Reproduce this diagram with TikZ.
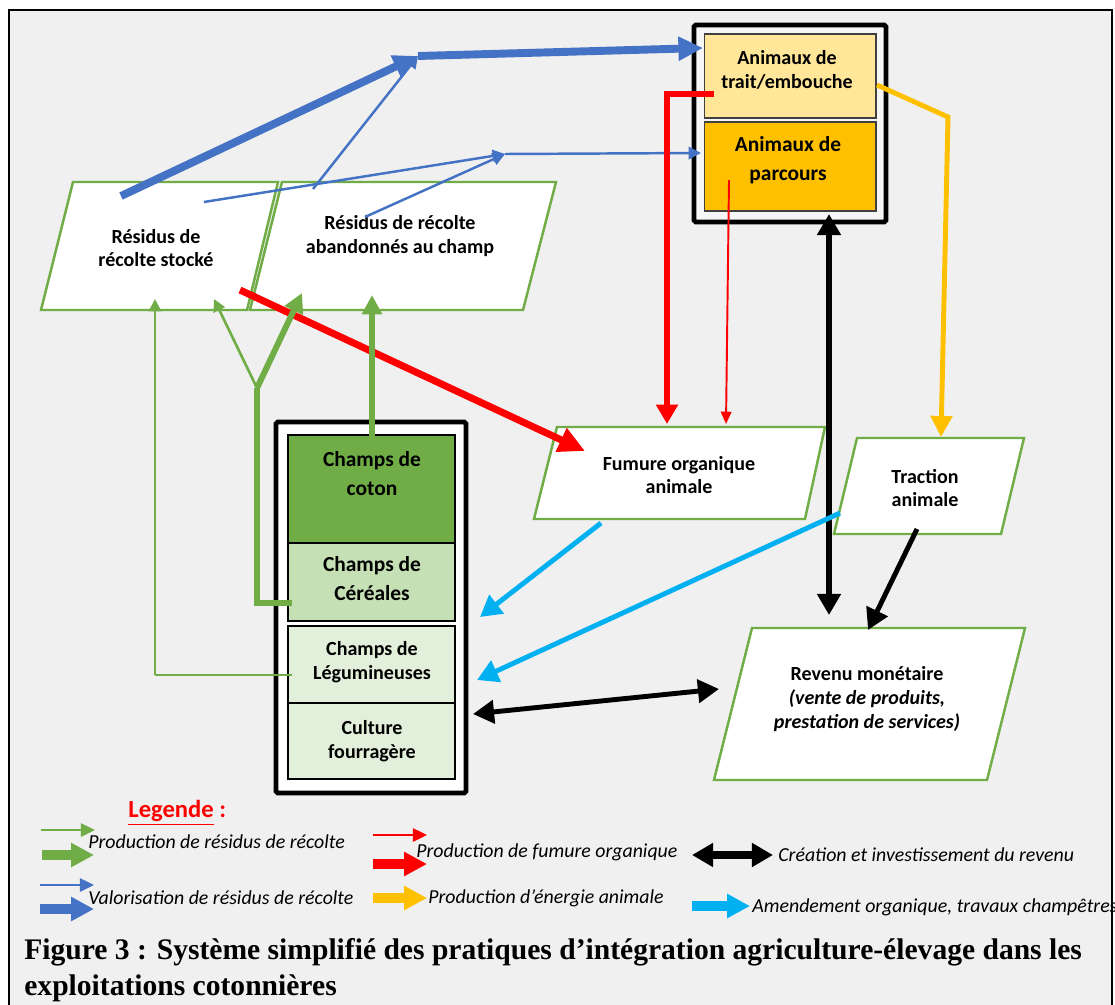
\documentclass[tikz,border=0pt]{standalone}
\usepackage{fontspec}
\setmainfont{Carlito}
\newfontfamily\capfont[FakeStretch=0.99]{Liberation Serif}
\usetikzlibrary{arrows.meta}

\definecolor{cgreen}{HTML}{70AD47}
\definecolor{cblue}{HTML}{4472C4}
\definecolor{corange}{HTML}{FFC000}
\definecolor{ccyan}{HTML}{00B0F0}
\definecolor{cyellow}{HTML}{FFE699}
\definecolor{cgreenL}{HTML}{C5E0B4}
\definecolor{cgreenLL}{HTML}{E2EFDA}
\definecolor{bgray}{HTML}{F0F0F0}

\tikzset{
  txt/.style={font=\bfseries\fontsize{11.4}{13.6}\selectfont, align=center, inner sep=0pt},
  txtbig/.style={font=\bfseries\fontsize{12.2}{16.5}\selectfont, align=center, inner sep=0pt},
  legtxt/.style={font=\itshape\fontsize{11.3}{12}\selectfont, anchor=west, inner sep=0pt},
  parabox/.style={draw=cgreen, fill=white, line width=1.4pt, line join=miter},
  cell/.style={draw=black, line width=1.4pt, minimum width=3.34cm, inner sep=0pt},
  acell/.style={draw=black!75, line width=0.6pt, minimum width=3.44cm, inner sep=0pt},
  blueK/.style={draw=cblue, line width=4.5pt, -{Triangle[length=14pt,width=13pt]}},
  blueT/.style={draw=cblue, line width=1.4pt, -{Triangle[length=7pt,width=7pt]}},
  redK/.style={draw=red, line width=4pt, -{Triangle[length=15pt,width=14pt]}},
  redM/.style={draw=red, line width=3.4pt, line join=miter, -{Triangle[length=11pt,width=12pt]}},
  redT/.style={draw=red, line width=1.1pt, -{Triangle[length=7pt,width=6pt]}},
  orangeA/.style={draw=corange, line width=2.8pt, line join=miter, -{Triangle[length=12pt,width=12pt]}},
  blackA/.style={draw=black, line width=3.4pt, {Triangle[length=12pt,width=13pt]}-{Triangle[length=12pt,width=13pt]}},
  blackS/.style={draw=black, line width=2.8pt, -{Triangle[length=12pt,width=13pt]}},
  cyanA/.style={draw=ccyan, line width=2.8pt, -{Triangle[length=12pt,width=13pt]}},
  greenK/.style={draw=cgreen, line width=3.4pt, line join=miter, -{Triangle[length=11pt,width=11pt]}},
  greenT/.style={draw=cgreen, line width=1.2pt, -{Triangle[length=7pt,width=7pt]}},
}

\begin{document}
\begin{tikzpicture}[x=0.02cm, y=-0.02cm]
  \useasboundingbox (0,0) rectangle (1115,1004);
  \fill[white] (0,0) rectangle (1115,1004);
  \draw[fill=bgray, line width=1.1pt] (9,10) rectangle (1112,1040);

  % parallelograms
  \draw[parabox] (73,182) -- (278,182) -- (247,310) -- (41,310) -- cycle;
  \draw[parabox] (282,182) -- (556,182) -- (523,310) -- (250,310) -- cycle;
  \draw[parabox] (557,427) -- (825,427) -- (805,519) -- (534,519) -- cycle;
  \draw[parabox] (857,438) -- (1024,438) -- (1001,534) -- (834,534) -- cycle;
  \draw[parabox] (752,628) -- (1025,628) -- (987,780) -- (714,780) -- cycle;

  \node[txt] (stock) at (156,248) {Résidus de\\récolte stocké};
  \node[txt] (aband) at (400,236) {Résidus de récolte\\abandonnés au champ};
  \node[txt] (fumure) at (679,475) {Fumure organique\\animale};
  \node[txt] (traction) at (925,488) {Traction\\animale};
  \node[txt] (revenu) at (867,699) {Revenu monétaire\\\textit{(vente de produits,}\\\textit{prestation de services)}};

  % animals
  \draw[fill=bgray!60, line width=2.8pt, rounded corners=1pt] (694,25) rectangle (886,222);
  \node[acell, fill=cyellow, minimum height=1.68cm] (trait) at (790,76) {};
  \node[acell, fill=corange, minimum height=1.78cm] (parcours) at (790,166.5) {};
  \node[txt] (trait-t) at (787,70) {Animaux de\\trait/embouche};
  \node[txtbig] (parcours-t) at (788,160) {Animaux de\\parcours};

  % fields
  \draw[fill=white, line width=2.8pt, rounded corners=1pt] (276,422) rectangle (466,793);
  \node[cell, fill=cgreen, minimum height=2.16cm] (coton) at (371.5,489) {};
  \node[cell, fill=cgreenL, minimum height=1.56cm] (cereales) at (371.5,582) {};
  \node[cell, fill=cgreenLL, minimum height=1.54cm] (legum) at (371.5,664.5) {};
  \node[cell, fill=cgreenLL, minimum height=1.52cm] (fourrage) at (371.5,741) {};
  \node[txtbig] (coton-t) at (372,474) {Champs de\\coton};
  \node[txtbig] (cereales-t) at (372,579) {Champs de\\Céréales};
  \node[txt] (legum-t) at (372,662) {Champs de\\Légumineuses};
  \node[txt] (fourrage-t) at (372,741) {Culture\\fourragère};

  % arrow ends
  \coordinate (jA) at (418,56);
  \coordinate (jB) at (505,154);
  \coordinate (jO) at (948,117);
  \coordinate (jY) at (257,388);
  \coordinate (jR) at (667,94);
  \coordinate (jL) at (155,675);
  \coordinate (jC) at (257,603);

  % blue
  \draw[blueK] (121,196) coordinate (stock-b1) -- (jA);
  \draw[blueK] (jA) -- (703,48) coordinate (trait-b);
  \draw[blueT] (313,189) coordinate (aband-b1) -- (jA);
  \draw[blueT] (204,202) coordinate (stock-b2) -- (jB);
  \draw[blueT] (365,217) coordinate (aband-b2) -- (jB);
  \draw[blueT] (jB) -- (701,153) coordinate (parcours-b);

  % red
  \draw[redK] (240,290) coordinate (stock-r) -- (585,451) coordinate (fumure-r1);
  \draw[redM] (714,94) coordinate (trait-r) -- (jR) -- (667,424) coordinate (fumure-r2);
  \draw[redT] (729,180) coordinate (parcours-r) -- (726,424) coordinate (fumure-r3);

  % orange
  \draw[orangeA] (877,85) coordinate (trait-o) -- (jO) -- (941,437) coordinate (traction-o);

  % black
  \draw[blackA] (829,214) coordinate (parcours-k) -- (829,615) coordinate (revenu-k1);
  \draw[blackS] (917,529) coordinate (traction-k) -- (868,630) coordinate (revenu-k2);
  \draw[blackA, line width=2.8pt] (473,714) coordinate (fourrage-k) -- (719,689) coordinate (revenu-k3);

  % cyan
  \draw[cyanA] (601,523) coordinate (fumure-c) -- (480,617) coordinate (cereales-c);
  \draw[cyanA] (840,513) coordinate (traction-c) -- (477,680) coordinate (legum-c);

  % green
  \draw[cgreen, line width=0.6pt] (292,675) coordinate (legum-g) -- (jL);
  \draw[greenT] (jL) -- (155,299) coordinate (stock-g1);
  \draw[cgreen, line width=3.6pt, line join=miter] (292,603) coordinate (cereales-g) -- (jC) -- (jY);
  \draw[greenT, line width=1.5pt] (jY) -- (214,299) coordinate (stock-g2);
  \draw[greenK] (jY) -- (302,293) coordinate (aband-g1);
  \draw[greenK] (372,436) coordinate (coton-g) -- (372,295) coordinate (aband-g2);

  % legend
  \node[anchor=west, inner sep=0pt, font=\bfseries\fontsize{14}{15}\selectfont, text=red] (legende) at (128,813) {\underline{Legende} :};
  \draw[cgreen, line width=1.2pt, -{Triangle[length=8pt,width=7.5pt]}] (41,830) -- (95,830);
  \draw[cgreen, line width=5.2pt, -{Triangle[length=13pt,width=13pt]}] (42,855) -- (94,855);
  \draw[red, line width=1.2pt, -{Triangle[length=8pt,width=7.5pt]}] (373,835) -- (427,835);
  \draw[red, line width=5.2pt, -{Triangle[length=13pt,width=13pt]}] (373,864) -- (427,864);
  \draw[black, line width=4.5pt, {Triangle[length=12pt,width=13pt]}-{Triangle[length=12pt,width=13pt]}] (692,855) -- (773,855);
  \draw[cblue, line width=1.2pt, -{Triangle[length=8pt,width=7.5pt]}] (40,885) -- (94,885);
  \draw[cblue, line width=5.2pt, -{Triangle[length=13pt,width=13pt]}] (40,909) -- (94,909);
  \draw[corange, line width=5.2pt, -{Triangle[length=13pt,width=13pt]}] (373,898) -- (427,898);
  \draw[ccyan, line width=5.2pt, -{Triangle[length=13pt,width=13pt]}] (692,906) -- (750,906);

  \node[legtxt] (leg-prod) at (88,842) {Production de résidus de récolte};
  \node[legtxt] (leg-fum) at (416,852) {Production de fumure organique};
  \node[legtxt] (leg-rev) at (778,855) {Création et investissement du revenu};
  \node[legtxt] (leg-val) at (88,898) {Valorisation de résidus de récolte};
  \node[legtxt] (leg-ener) at (428,898) {Production d’énergie animale};
  \node[legtxt] (leg-amend) at (752,907) {Amendement organique, travaux champêtres};

  % caption
  \node[anchor=west, inner sep=0pt, font=\capfont\bfseries\fontsize{17}{20}\selectfont] (cap1) at (24,952) {Figure 3 : Système simplifié des pratiques d’intégration agriculture-élevage dans les};
  \node[anchor=west, inner sep=0pt, font=\capfont\bfseries\fontsize{17}{20}\selectfont] (cap2) at (24,988) {exploitations cotonnières};
\end{tikzpicture}
\end{document}
